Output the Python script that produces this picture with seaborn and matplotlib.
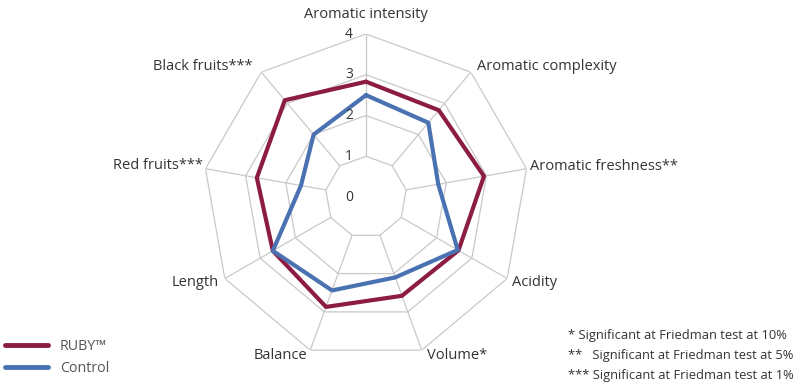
import numpy as np
import pandas as pd
import matplotlib
matplotlib.use("Agg")
import matplotlib.pyplot as plt
import seaborn as sns
from matplotlib.lines import Line2D

categories = ["Aromatic intensity", "Aromatic complexity", "Aromatic freshness**",
              "Acidity", "Volume*", "Balance", "Length", "Red fruits***", "Black fruits***"]
ruby = [2.83, 2.78, 2.94, 2.62, 2.58, 2.87, 2.64, 2.72, 3.10]
control = [2.50, 2.38, 1.80, 2.60, 2.10, 2.44, 2.64, 1.62, 2.00]
series_names = ["RUBY\u2122", "Control"]
rticks = [0, 1, 2, 3, 4]
footnotes = ["* Significant at Friedman test at 10%",
             "**   Significant at Friedman test at 5%",
             "*** Significant at Friedman test at 1%"]

sns.set_theme(style="white")
plt.rcParams["font.family"] = ["Open Sans", "DejaVu Sans"]

n = len(categories)
theta = np.linspace(0, 2 * np.pi, n, endpoint=False)
theta_c = np.append(theta, theta[0])

rows = []
for name, vals in zip(series_names, [ruby, control]):
    for i, t in enumerate(theta_c):
        rows.append({"theta": t, "value": vals[i % n], "series": name, "order": i})
df = pd.DataFrame(rows)

fig = plt.figure(figsize=(8, 3.85), dpi=100)
ax = fig.add_axes([0.25375, 0.0649, 0.4075, 0.8468], projection="polar")
ax.set_theta_zero_location("N")
ax.set_theta_direction(-1)
ax.set_ylim(0, 4)
ax.grid(False)
ax.spines["polar"].set_visible(False)
ax.set_xticks([])
ax.set_yticks([])
ax.patch.set_alpha(0)

grid_c = "#c9c9c9"
for r in rticks[1:]:
    ax.plot(theta_c, [r] * (n + 1), color=grid_c, lw=0.9, zorder=1)
for t in theta:
    ax.plot([t, t], [1, 4], color=grid_c, lw=0.9, zorder=1)

palette = {"RUBY\u2122": "#8c1c44", "Control": "#4a72b2"}
sns.lineplot(data=df, x="theta", y="value", hue="series", palette=palette,
             sort=False, estimator=None, units="series", lw=3, ax=ax, zorder=3,
             legend=False)

txt_c = "#333333"
for r in rticks:
    ax.annotate(str(r), xy=(0, r), xytext=(-17, 0), textcoords="offset pixels",
                ha="center", va="center", fontsize=10, color=txt_c)

offsets = [(0, 20, "center"), (6, 6, "left"), (3, 2, "left"), (5, -4, "left"),
           (5, -5, "left"), (-3, -5, "right"), (-6, -4, "right"), (-3, 3, "right"),
           (-9, 6, "right")]
for t, lab, (dx, dy, ha) in zip(theta, categories, offsets):
    ax.annotate(lab, xy=(t, 4), xytext=(dx, dy), textcoords="offset pixels",
                ha=ha, va="center", fontsize=10.5, color=txt_c, annotation_clip=False)

handles = [Line2D([0], [0], color=palette[s], lw=3.5) for s in series_names]
leg = fig.legend(handles, series_names, loc="lower left", bbox_to_anchor=(-0.004, 0.0),
                 frameon=False, handlelength=3.0, fontsize=10.3, labelspacing=0.5,
                 handletextpad=0.8, borderaxespad=0.2)
for t in leg.get_texts():
    t.set_color("#555555")

for i, s in enumerate(footnotes):
    fig.text(568 / 800, 1 - (336 + 19.5 * i) / 385, s, ha="left", va="center",
             fontsize=9.3, color=txt_c)

fig.savefig("out.png", dpi=100)
